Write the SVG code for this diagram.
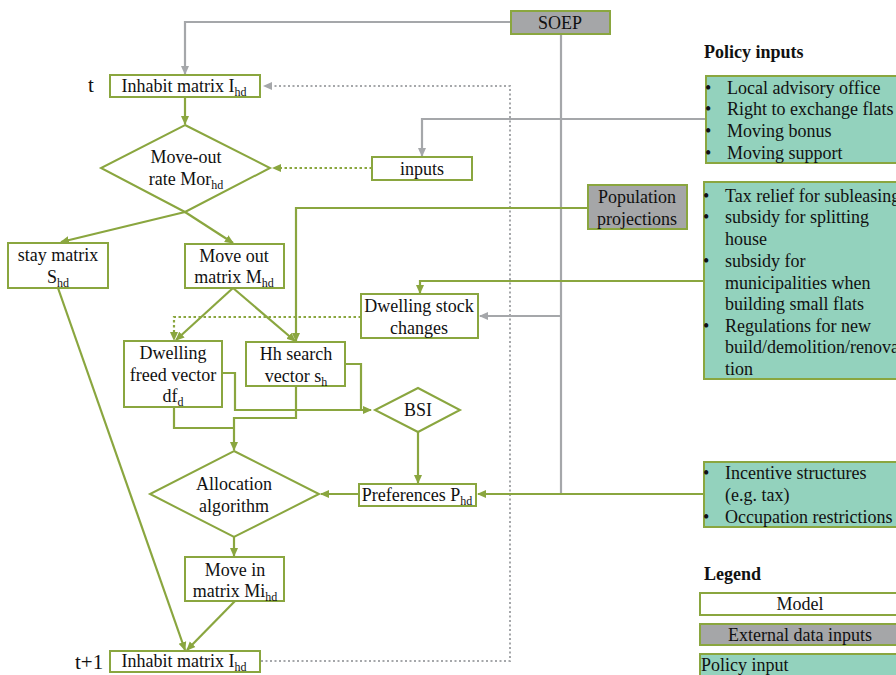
<svg xmlns="http://www.w3.org/2000/svg" width="896" height="675" viewBox="0 0 896 675" font-family="'Liberation Serif', 'Times New Roman', serif">
<style>
text{font-family:'Liberation Serif','Times New Roman',serif;font-size:18px;fill:#111}
.c{text-anchor:middle}
.b{font-weight:bold;font-size:18px}
.box{fill:#fff;stroke:#8aa63f;stroke-width:2}
.ext{fill:#a5a6a8;stroke:#8aa63f;stroke-width:2}
.pol{fill:#93d2bd;stroke:#8aa63f;stroke-width:2}
.g{fill:none;stroke:#8aa63f;stroke-width:2.2}
.gd{fill:none;stroke:#8aa63f;stroke-width:2.2;stroke-dasharray:2.5 2.5}
.k{fill:none;stroke:#a5a7aa;stroke-width:2.2}
.kd{fill:none;stroke:#a5a7aa;stroke-width:2;stroke-dasharray:2 2.5}
.s{font-size:12px}
.big{font-size:21px}
</style>
<defs>
<marker id="ag" markerWidth="9" markerHeight="9" refX="8" refY="4.5" orient="auto" markerUnits="userSpaceOnUse"><path d="M0,0.5 L9,4.5 L0,8.5 z" fill="#8aa63f"/></marker>
<marker id="ak" markerWidth="9" markerHeight="9" refX="8" refY="4.5" orient="auto" markerUnits="userSpaceOnUse"><path d="M0,0.5 L9,4.5 L0,8.5 z" fill="#a5a7aa"/></marker>
</defs>

<g id="connectors">
<path class="k" d="M511,22 H185 V74" marker-end="url(#ak)"/>
<path class="kd" d="M261,661 H510 V86 H264" marker-end="url(#ak)"/>
<path class="g" d="M185,97 V124" marker-end="url(#ag)"/>
<path class="gd" d="M372,168 H273" marker-end="url(#ag)"/>
<path class="k" d="M706,119 H422 V156" marker-end="url(#ak)"/>
<path class="g" d="M185,212 L61,242" marker-end="url(#ag)"/>
<path class="g" d="M185,212 L233,243" marker-end="url(#ag)"/>
<path class="k" d="M561,34 V494"/>
<path class="k" d="M561,316 H480" marker-end="url(#ak)"/>
<path class="g" d="M588,208 H296 V341" marker-end="url(#ag)"/>
<path class="g" d="M704,281 H420 V293" marker-end="url(#ag)"/>
<path class="gd" d="M361,317 H174 V340" marker-end="url(#ag)"/>
<path class="g" d="M233,288 L176,340" marker-end="url(#ag)"/>
<path class="g" d="M233,288 L295,341" marker-end="url(#ag)"/>
<path class="g" d="M222,373 H235 V410 H371" marker-end="url(#ag)"/>
<path class="g" d="M345,364 H361 V410"/>
<path class="g" d="M296,386 V418 H234 V450" marker-end="url(#ag)"/>
<path class="g" d="M174,407 V428 H234"/>
<path class="g" d="M418,432 V483" marker-end="url(#ag)"/>
<path class="g" d="M359,494 H321" marker-end="url(#ag)"/>
<path class="g" d="M704,494 H478" marker-end="url(#ag)"/>
<path class="g" d="M234,537 V556" marker-end="url(#ag)"/>
<path class="g" d="M58,288 L185,650" marker-end="url(#ag)"/>
<path class="g" d="M235,601 L187,650" marker-end="url(#ag)"/>
</g>

<g id="soep"><rect class="ext" x="511" y="11" width="99" height="23"/><text class="c" x="560" y="29">SOEP</text></g>

<g id="label-t"><text class="big" x="88" y="92">t</text></g>
<g id="inhabit-t"><rect class="box" x="110" y="75" width="150" height="22"/><text class="c" x="184" y="92">Inhabit matrix I<tspan class="s" dy="4">hd</tspan></text></g>

<g id="moveout-rate"><polygon class="box" points="185,125 270,168 185,212 101,168"/>
<text class="c" x="186" y="163">Move-out</text><text class="c" x="186" y="185">rate Mor<tspan class="s" dy="4">hd</tspan></text></g>

<g id="inputs"><rect class="box" x="372" y="157" width="100" height="23"/><text class="c" x="422" y="175">inputs</text></g>

<g id="population"><rect class="ext" x="588" y="185" width="99" height="44"/><text class="c" x="637" y="203">Population</text><text class="c" x="637" y="225">projections</text></g>

<g id="stay"><rect class="box" x="8" y="243" width="100" height="45"/><text class="c" x="58" y="261">stay matrix</text><text class="c" x="58" y="283">S<tspan class="s" dy="4">hd</tspan></text></g>

<g id="moveout-matrix"><rect class="box" x="185" y="244" width="99" height="44"/><text class="c" x="234" y="262">Move out</text><text class="c" x="234" y="283">matrix M<tspan class="s" dy="4">hd</tspan></text></g>

<g id="dwelling-stock"><rect class="box" x="361" y="294" width="117" height="44"/><text class="c" x="419" y="312">Dwelling stock</text><text class="c" x="419" y="334">changes</text></g>

<g id="dwelling-freed"><rect class="box" x="124" y="341" width="98" height="66"/><text class="c" x="173" y="359">Dwelling</text><text class="c" x="173" y="381">freed vector</text><text class="c" x="173" y="402">df<tspan class="s" dy="4">d</tspan></text></g>

<g id="hh-search"><rect class="box" x="246" y="342" width="99" height="44"/><text class="c" x="296" y="360">Hh search</text><text class="c" x="296" y="382">vector s<tspan class="s" dy="4">h</tspan></text></g>

<g id="bsi"><polygon class="box" points="418,388 460,410 418,432 375,410"/><text class="c" x="418" y="416">BSI</text></g>

<g id="preferences"><rect class="box" x="359" y="484" width="117" height="22"/><text class="c" x="417" y="501">Preferences P<tspan class="s" dy="4">hd</tspan></text></g>

<g id="allocation"><polygon class="box" points="234,451 319,494 234,537 150,494"/><text class="c" x="234" y="490">Allocation</text><text class="c" x="234" y="512">algorithm</text></g>

<g id="movein"><rect class="box" x="185" y="557" width="99" height="44"/><text class="c" x="235" y="576">Move in</text><text class="c" x="235" y="597">matrix Mi<tspan class="s" dy="4">hd</tspan></text></g>

<g id="label-t1"><text class="big" x="75" y="669">t+1</text></g>
<g id="inhabit-t1"><rect class="box" x="110" y="651" width="150" height="21"/><text class="c" x="184" y="667">Inhabit matrix I<tspan class="s" dy="4">hd</tspan></text></g>

<g id="policy-title"><text class="b" x="704" y="58">Policy inputs</text></g>

<g id="policy1"><rect class="pol" x="706" y="76" width="200" height="87"/>
<text x="705" y="94">•</text><text x="727" y="94">Local advisory office</text>
<text x="705" y="115">•</text><text x="727" y="115">Right to exchange flats</text>
<text x="705" y="137">•</text><text x="727" y="137">Moving bonus</text>
<text x="705" y="159">•</text><text x="727" y="159">Moving support</text></g>

<g id="policy2"><rect class="pol" x="704" y="182" width="202" height="197"/>
<text x="703" y="202">•</text><text x="725" y="202">Tax relief for subleasing</text>
<text x="703" y="223">•</text><text x="725" y="223">subsidy for splitting</text>
<text x="725" y="245">house</text>
<text x="703" y="267">•</text><text x="725" y="267">subsidy for</text>
<text x="725" y="289">municipalities when</text>
<text x="725" y="310">building small flats</text>
<text x="703" y="332">•</text><text x="725" y="332">Regulations for new</text>
<text x="725" y="353">build/demolition/renova</text>
<text x="725" y="375">tion</text></g>

<g id="policy3"><rect class="pol" x="704" y="462" width="202" height="65"/>
<text x="703" y="479">•</text><text x="725" y="479">Incentive structures</text>
<text x="725" y="501">(e.g. tax)</text>
<text x="703" y="523">•</text><text x="725" y="523">Occupation restrictions</text></g>

<g id="legend-title"><text class="b" x="704" y="580">Legend</text></g>
<g id="legend-model"><rect class="box" x="700" y="593" width="206" height="22"/><text class="c" x="800" y="610">Model</text></g>
<g id="legend-ext"><rect class="ext" x="700" y="624" width="206" height="21"/><text class="c" x="800" y="641">External data inputs</text></g>
<g id="legend-policy"><rect class="pol" x="700" y="654" width="206" height="25"/><text x="701" y="671">Policy input</text></g>
</svg>
